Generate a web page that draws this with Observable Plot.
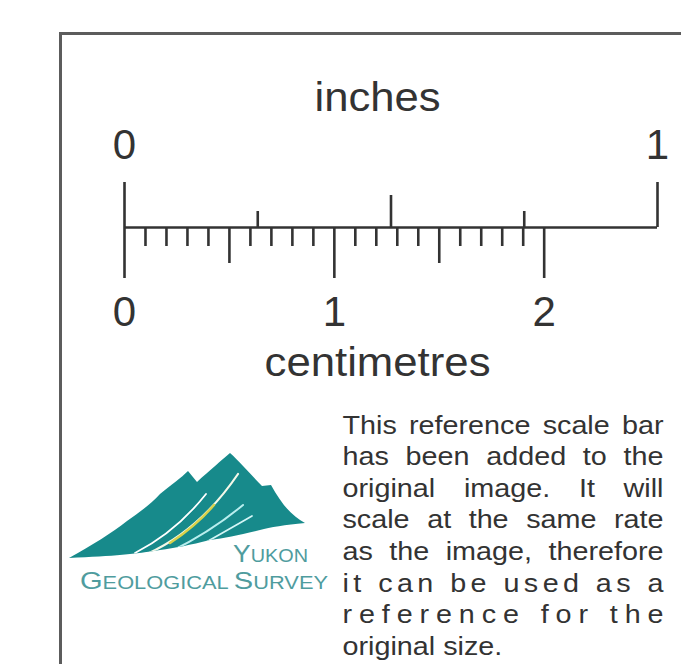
<!DOCTYPE html>
<html><head><meta charset="utf-8">
<script src="https://cdn.jsdelivr.net/npm/d3@7"></script>
<script src="https://cdn.jsdelivr.net/npm/@observablehq/plot@0.6"></script>
<style>html,body{margin:0;padding:0;background:#fff;} svg{display:block;}</style>
</head><body><div id="chart"></div>
<script>
// ---- data ----
const inchTicksMajor = [0, 1];
const inchTicksHalf = [0.5];
const inchTicksQuarter = [0.25, 0.75];
const cmTicksMajor = [0, 1, 2];
const cmTicksHalf = [0.5, 1.5];
const mmTicks = [0.1,0.2,0.3,0.4,0.6,0.7,0.8,0.9,1.1,1.2,1.3,1.4,1.6,1.7,1.8,1.9];
const inchLabels = ["0", "1"];
const cmLabels = ["0", "1", "2"];
const titleTop = "inches";
const titleBottom = "centimetres";
const paragraphLines = [
  "This reference scale bar",
  "has been added to the",
  "original image. It will",
  "scale at the same rate",
  "as the image, therefore",
  "it can be used as a",
  "reference for the",
  "original size."
];
const logoWords = [["Y", "UKON"], ["G", "EOLOGICAL ", "S", "URVEY"]];

const cmToIn = cm => cm / 2.54;

// ---- layout (pixels) ----
const L = {base: 227, inchTop: 182, halfTop: 195, quarterTop: 211,
  cmBottom: 278, halfCmBottom: 263, mmBottom: 246,
  inchLabel: 145, cmLabel: 312, titleTopY: 97, titleBottomY: 362,
  paraX: 342, paraTop: 425, paraStep: 31.6, paraWidth: 321, stretch: 1.15};
const ink = "#333";
const font = "'Liberation Sans', Arial, Helvetica, sans-serif";
const tickStyle = {stroke: ink, strokeWidth: 2.6};

const mountainPath = "M69,558 C92,545 112,533 127,521 C140,512 152,503 160,494 C172,484 181,478 188,471 L197,482 C210,470 222,460 230,453 C240,462 252,476 262,486 L271,485 C282,505 292,516 305,523 C285,525 270,527 260,530 C240,535 225,538 210,540 C190,545 175,548 160,550 C135,554 115,556 69,558 Z";
const streaks = [
  {d: "M135,553 Q176,532 206,494", c: "#ffffff", w: 1.8},
  {d: "M147,554 Q200,530 238,474", c: "#f4f8e8", w: 2.2},
  {d: "M170,543 Q196,526 214,505", c: "#d9d24a", w: 2.4},
  {d: "M170,552 Q212,531 243,505", c: "#b9eeee", w: 2},
  {d: "M194,549 Q226,531 252,516", c: "#d4f6f6", w: 1.7}
];

function logo() {
  const g = d3.create("svg:g");
  g.append("defs").append("clipPath").attr("id", "mtnclip")
    .append("path").attr("d", mountainPath);
  g.append("path").attr("d", mountainPath).attr("fill", "#178a8b");
  const s = g.append("g").attr("clip-path", "url(#mtnclip)")
    .attr("fill", "none").attr("stroke-linecap", "round");
  streaks.forEach(t => s.append("path").attr("d", t.d).attr("stroke", t.c).attr("stroke-width", t.w));
  const lines = [{x: 233, y: 562, len: 75}, {x: 80, y: 589, len: 248}];
  logoWords.forEach((parts, i) => {
    const t = g.append("text").attr("x", lines[i].x).attr("y", lines[i].y)
      .attr("text-anchor", "start")
      .attr("fill", "#4f9c9e").attr("font-family", font)
      .attr("textLength", lines[i].len).attr("lengthAdjust", "spacingAndGlyphs");
    parts.forEach((p, j) => t.append("tspan").attr("font-size", j % 2 === 0 ? 24 : 18).text(p));
  });
  return g.node();
}

const chart = Plot.plot({
  width: 681, height: 664,
  margin: 0,
  style: {background: "#fff", fontFamily: font},
  x: {domain: [0, 1], range: [124, 657], axis: null},
  y: {type: "identity", axis: null},
  marks: [
    Plot.frame({stroke: "#5c5c5c", strokeWidth: 3, insetLeft: 60, insetTop: 33, insetRight: -20, insetBottom: -20}),
    Plot.ruleY([L.base], {x1: inchTicksMajor[0], x2: inchTicksMajor[1], ...tickStyle}),
    Plot.ruleX(inchTicksMajor, {x: d => d, y1: L.inchTop, y2: L.base, ...tickStyle}),
    Plot.ruleX(inchTicksHalf, {x: d => d, y1: L.halfTop, y2: L.base, ...tickStyle}),
    Plot.ruleX(inchTicksQuarter, {x: d => d, y1: L.quarterTop, y2: L.base, ...tickStyle}),
    Plot.ruleX(cmTicksMajor, {x: cmToIn, y1: L.base, y2: L.cmBottom, ...tickStyle}),
    Plot.ruleX(cmTicksHalf, {x: cmToIn, y1: L.base, y2: L.halfCmBottom, ...tickStyle}),
    Plot.ruleX(mmTicks, {x: cmToIn, y1: L.base, y2: L.mmBottom, ...tickStyle}),
    Plot.text(inchLabels, {x: (d, i) => inchTicksMajor[i], y: L.inchLabel, text: d => d, fontSize: 42, fill: ink, lineAnchor: "middle"}),
    Plot.text(cmLabels, {x: (d, i) => cmToIn(cmTicksMajor[i]), y: L.cmLabel, text: d => d, fontSize: 42, fill: ink, lineAnchor: "middle"}),
    Plot.text([titleTop, titleBottom], {frameAnchor: "left", dx: 377, y: (d, i) => i === 0 ? L.titleTopY : L.titleBottomY,
      text: d => d, fontSize: 41, fill: ink, textAnchor: "middle", lineAnchor: "middle"}),
    Plot.text(paragraphLines, {frameAnchor: "left", dx: L.paraX, y: (d, i) => L.paraTop + i * L.paraStep,
      text: d => d, fontSize: 25, fill: ink, textAnchor: "start", lineAnchor: "middle"}),
    logo
  ]
});
document.getElementById("chart").appendChild(chart);

const texts = Array.from(chart.querySelectorAll("text"));
// title widths
const titleLens = {[titleTop]: 126, [titleBottom]: 226};
texts.forEach(el => {
  const s = el.textContent;
  if (s in titleLens) {
    el.setAttribute("textLength", titleLens[s]);
    el.setAttribute("lengthAdjust", "spacingAndGlyphs");
  }
});
// justify the paragraph
const target = L.paraWidth / L.stretch;
texts.forEach(el => {
  const i = paragraphLines.indexOf(el.textContent);
  if (i < 0) return;
  const tr = el.getAttribute("transform") || "";
  el.setAttribute("transform", tr + ` scale(${L.stretch},1)`);
  const txt = paragraphLines[i];
  if (i <= 4) {
    const natural = el.getComputedTextLength();
    const spaces = (txt.match(/ /g) || []).length;
    el.style.wordSpacing = ((target - natural) / spaces) + "px";
  } else if (i <= 6) {
    el.setAttribute("textLength", target);
    el.setAttribute("lengthAdjust", "spacing");
  }
});
</script>
</body></html>
